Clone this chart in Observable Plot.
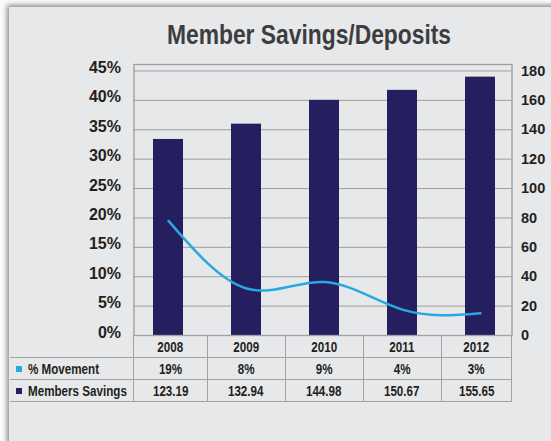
<!DOCTYPE html>
<html>
<head>
<meta charset="utf-8">
<script src="https://cdn.jsdelivr.net/npm/d3@7"></script>
<script src="https://cdn.jsdelivr.net/npm/@observablehq/plot@0.6"></script>
<style>
  html, body { margin: 0; padding: 0; background: #fbfbfb; }
  #wrap { position: relative; width: 551px; height: 441px; overflow: hidden; background: #fbfbfb; }
  #panel { position: absolute; left: 9px; top: 7px; width: 600px; height: 500px; background: #e7e8ea;
           box-shadow: -2px -2px 5px rgba(0,0,0,0.45); }
  #title { position: absolute; left: 309px; top: 21px; transform: translateX(-50%) scaleX(0.83); white-space: nowrap;
           font-family: "Liberation Sans", Arial, sans-serif;
           font-weight: bold; font-size: 27.5px; line-height: 1; color: #3d3d40; }
  #chart { position: absolute; left: 0; top: 0; }
  #chart svg { overflow: visible; }
  #tbl { position: absolute; left: 10px; top: 335px; border-collapse: collapse; table-layout: fixed;
         font-family: "Liberation Sans", Arial, sans-serif;
         font-weight: bold; font-size: 15.5px; color: #231f20; }
  #tbl td { height: 21px; padding: 0; text-align: center; border: 1.3px solid #a2a2a4; line-height: 1;
            overflow: visible; white-space: nowrap; }
  #tbl td.lab { text-align: left; padding-left: 6px; border-left: none; }
  #tbl td.blank { border-top: none; border-left: none; }
  .sq { display: inline-block; transform: scaleX(0.75); transform-origin: 50% 50%; }
  .lab .sq { transform-origin: 0 50%; }
  .sw { display: inline-block; width: 6px; height: 6px; margin-right: 6px; vertical-align: 2px; }
</style>
</head>
<body>
<div id="wrap">
  <div id="panel"></div>
  <div id="title">Member Savings/Deposits</div>
  <div id="chart"></div>
  <table id="tbl"></table>
</div>
<script>
// ---- data ----
const years = ["2008", "2009", "2010", "2011", "2012"];
const movementLabels = ["19%", "8%", "9%", "4%", "3%"];
const savingsLabels = ["123.19", "132.94", "144.98", "150.67", "155.65"];
// bar heights as drawn, read against the right axis
const savingsBars = [133.4, 143.8, 160.0, 166.8, 175.8];
// % movement line as drawn, read against the left axis
const movementLine = [19.5, 8.0, 9.1, 4.4, 3.8];
const leftTicks = [0, 5, 10, 15, 20, 25, 30, 35, 40, 45];
const rightTicks = [0, 20, 40, 60, 80, 100, 120, 140, 160, 180];
const seriesNames = ["% Movement", "Members Savings"];
const colors = { movement: "#29a9e1", savings: "#251f60", grid: "#9c9c9e", text: "#231f20" };

const ratio = rightTicks[rightTicks.length - 1] / leftTicks[leftTicks.length - 1];
const data = years.map((y, i) => ({ year: y, bar: savingsBars[i], pct: movementLine[i] }));

const W = 551, H = 350;
const mL = 133.5, mR = 39.5, mT = 64, mB = 15;
const step = 78.1, firstCenter = 167.7;

const plot = Plot.plot({
  width: W, height: H,
  marginLeft: mL, marginRight: mR, marginTop: mT, marginBottom: mB,
  style: { background: "transparent", color: colors.text, fontFamily: "'Liberation Sans', Arial, sans-serif" },
  x: { type: "band", domain: years, range: [firstCenter - step / 2, firstCenter - step / 2 + step * years.length], padding: 0, axis: null },
  y: { domain: [0, 46.1], axis: null },
  marks: [
    Plot.ruleY(leftTicks, { stroke: colors.grid, strokeWidth: 1 }),
    Plot.barY(data, { x: "year", y: d => d.bar / ratio, fill: colors.savings, insetLeft: 24, insetRight: 24 }),
    Plot.line(data, { x: "year", y: "pct", curve: "natural", stroke: colors.movement, strokeWidth: 2.5 }),
    Plot.frame({ stroke: colors.grid, strokeWidth: 1.3 }),
    Plot.axisY({ anchor: "left", label: null, ticks: leftTicks, tickFormat: d => d + "%", tickSize: 0, tickPadding: 13,
                 dy: -3, fontSize: 16, fontWeight: "bold", fill: colors.text }),
    Plot.axisY({ anchor: "right", label: null, ticks: rightTicks.map(v => v / ratio), tickFormat: d => String(Math.round(d * ratio)),
                 tickSize: 0, tickPadding: 9, fontSize: 14.5, fontWeight: "bold", fill: colors.text })
  ]
});
document.getElementById("chart").appendChild(plot);

// ---- data table under the chart, columns aligned to the x scale ----
const xs = plot.scale("x");
const frameL = mL, frameR = W - mR;
const bounds = years.map(y => {
  const s = xs.apply(y);
  return [Math.max(frameL, s), Math.min(frameR, s + xs.bandwidth)];
});
const tbl = document.getElementById("tbl");
const colgroup = document.createElement("colgroup");
const c0 = document.createElement("col"); c0.style.width = (frameL - 10) + "px"; colgroup.appendChild(c0);
bounds.forEach(b => { const c = document.createElement("col"); c.style.width = (b[1] - b[0]) + "px"; colgroup.appendChild(c); });
tbl.appendChild(colgroup);
tbl.style.width = (frameR - 10) + "px";

function txt(t) { const s = document.createElement("span"); s.className = "sq"; s.textContent = t; return s; }
function row(cells, first) {
  const tr = document.createElement("tr");
  tr.appendChild(first);
  cells.forEach(t => { const td = document.createElement("td"); td.appendChild(txt(t)); tr.appendChild(td); });
  tbl.appendChild(tr);
}
const blank = document.createElement("td"); blank.className = "blank";
row(years, blank);
function labelCell(name, color) {
  const td = document.createElement("td"); td.className = "lab";
  const sw = document.createElement("span"); sw.className = "sw"; sw.style.background = color;
  td.appendChild(sw); td.appendChild(txt(name));
  return td;
}
row(movementLabels, labelCell(seriesNames[0], colors.movement));
row(savingsLabels, labelCell(seriesNames[1], colors.savings));
</script>
</body>
</html>
